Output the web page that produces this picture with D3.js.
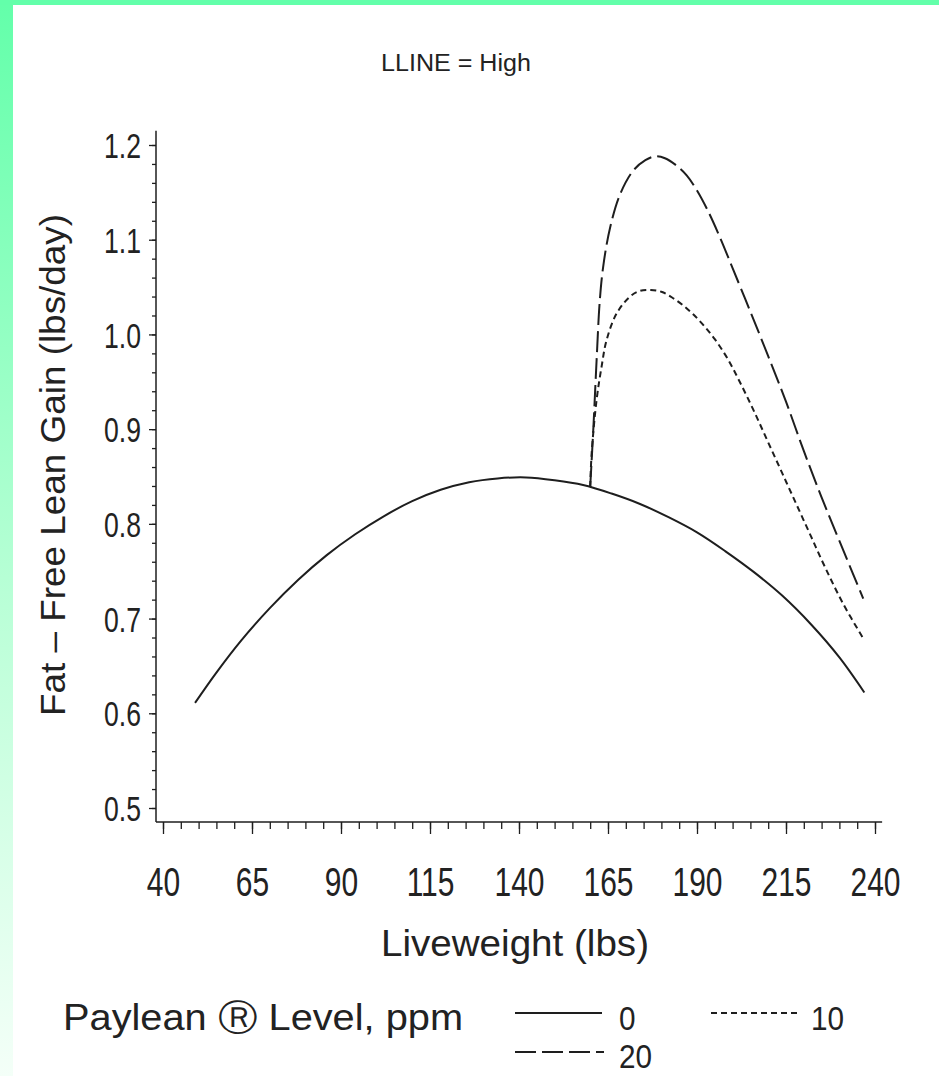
<!DOCTYPE html>
<html><head><meta charset="utf-8">
<script src="https://cdn.jsdelivr.net/npm/d3@7"></script>
<style>
body{margin:0;background:#fff;}
svg{display:block;}
text{font-family:"Liberation Sans",Arial,Helvetica,sans-serif;fill:#222;}
</style>
</head><body><svg id="c" width="939" height="1076"></svg>
<script>
// ---- data ----
const titleText = "LLINE = High";
const xLabel = "Liveweight  (lbs)";
const yLabel = "Fat \u2013 Free  Lean  Gain  (lbs/day)";
const legendTitle = "Paylean \u24C7 Level, ppm";
const xTicks = [40, 65, 90, 115, 140, 165, 190, 215, 240];
const yTicks = [0.5, 0.6, 0.7, 0.8, 0.9, 1.0, 1.1, 1.2];
const levels = ["0", "10", "20"];

const weight0 = [49, 55, 62, 70, 78, 86, 94, 102, 110, 118, 126, 134, 142, 150, 158, 166, 174, 182, 190, 198, 206, 214, 222, 230, 237];
const gain0   = [0.611, 0.643, 0.677, 0.711, 0.741, 0.767, 0.789, 0.808, 0.824, 0.836, 0.844, 0.848, 0.849, 0.846, 0.841, 0.832, 0.821, 0.807, 0.791, 0.771, 0.749, 0.724, 0.694, 0.659, 0.622];

const weight10 = [160, 160.4, 161.8, 163.2, 164.6, 167.4, 171.2, 174, 177, 180, 183, 186, 189, 192, 195, 198.5, 202, 206, 210, 214, 218, 222, 226, 231, 236.7];
const gain10   = [0.839, 0.874, 0.931, 0.966, 0.994, 1.022, 1.040, 1.046, 1.047, 1.045, 1.039, 1.031, 1.021, 1.009, 0.995, 0.975, 0.950, 0.919, 0.886, 0.853, 0.820, 0.787, 0.754, 0.716, 0.679];

const weight20 = [160, 160.9, 161.8, 162.7, 163.7, 165.6, 168.4, 172.1, 175.5, 178.2, 181, 184, 187.1, 190, 193, 196.5, 200, 205, 210, 215, 220, 225, 230, 236.7];
const gain20   = [0.839, 0.902, 0.973, 1.036, 1.073, 1.113, 1.148, 1.173, 1.184, 1.188, 1.186, 1.179, 1.168, 1.152, 1.131, 1.102, 1.070, 1.024, 0.977, 0.929, 0.877, 0.828, 0.782, 0.721];

// ---- layout ----
const svg = d3.select("#c");
const axisX = 156, axisY = 822;
const x = d3.scaleLinear().domain([40, 240]).range([163, 875]);
const y = d3.scaleLinear().domain([0.5, 1.2]).range([808, 145]);
const ink = "#1e1e1e";

function condense(sel, k) {
  sel.each(function () {
    const w = this.getComputedTextLength();
    d3.select(this).attr("textLength", w * k).attr("lengthAdjust", "spacingAndGlyphs");
  });
}

// green frame
const defs = svg.append("defs");
const grad = defs.append("linearGradient").attr("id", "gl").attr("x1", 0).attr("y1", 0).attr("x2", 0).attr("y2", 1);
grad.append("stop").attr("offset", "0%").attr("stop-color", "#63ffaa");
grad.append("stop").attr("offset", "55%").attr("stop-color", "#b8ffd6");
grad.append("stop").attr("offset", "100%").attr("stop-color", "#f4fff8");
svg.append("rect").attr("x", 0).attr("y", 0).attr("width", 939).attr("height", 1076).attr("fill", "#fff");
svg.append("rect").attr("x", 0).attr("y", 0).attr("width", 13).attr("height", 1076).attr("fill", "url(#gl)");
svg.append("rect").attr("x", 0).attr("y", 0).attr("width", 939).attr("height", 5).attr("fill", "#63ffaa");

// title
svg.append("text").attr("x", 456).attr("y", 71).attr("text-anchor", "middle")
  .attr("font-size", 23).attr("textLength", 150).attr("lengthAdjust", "spacingAndGlyphs")
  .text(titleText);

// y axis
const gy = svg.append("g").attr("transform", `translate(${axisX},0)`);
gy.call(d3.axisLeft(y).tickValues(d3.range(0.5, 1.2001, 0.02)).tickSize(4).tickFormat(""));
const gy2 = svg.append("g").attr("transform", `translate(${axisX},0)`);
gy2.call(d3.axisLeft(y).tickValues(yTicks).tickSize(7).tickPadding(8).tickFormat(d3.format(".1f")));
gy2.selectAll("text").attr("font-size", 35).attr("font-family", null).attr("fill", ink).attr("dy", "0.36em");
condense(gy2.selectAll("text"), 0.76);

// x axis
const gx = svg.append("g").attr("transform", `translate(0,${axisY})`);
gx.call(d3.axisBottom(x).tickValues(d3.range(40, 241, 5)).tickSize(7).tickFormat(""));
const gx2 = svg.append("g").attr("transform", `translate(0,${axisY})`);
gx2.call(d3.axisBottom(x).tickValues(xTicks).tickSize(12).tickFormat(d3.format("d")));
gx2.selectAll("text").attr("font-size", 41).attr("font-family", null).attr("fill", ink)
  .attr("y", 74).attr("dy", null);
condense(gx2.selectAll("text"), 0.73);
svg.selectAll(".tick line").attr("stroke", ink).attr("stroke-width", 1.3);
svg.selectAll(".domain").remove();

// axis lines
svg.append("line").attr("x1", axisX).attr("x2", axisX).attr("y1", y(1.215)).attr("y2", axisY)
  .attr("stroke", ink).attr("stroke-width", 1.5);
svg.append("line").attr("x1", axisX).attr("x2", x(242)).attr("y1", axisY).attr("y2", axisY)
  .attr("stroke", ink).attr("stroke-width", 1.5);

// axis titles
svg.append("text").attr("transform", "translate(65,465) rotate(-90)").attr("text-anchor", "middle")
  .attr("font-size", 35).attr("textLength", 502).attr("lengthAdjust", "spacingAndGlyphs").text(yLabel);
svg.append("text").attr("x", 515).attr("y", 956).attr("text-anchor", "middle")
  .attr("font-size", 37).attr("textLength", 268).attr("lengthAdjust", "spacingAndGlyphs").text(xLabel);

// curves
const series = [
  {w: weight0, g: gain0, dash: null},
  {w: weight10, g: gain10, dash: "6,4"},
  {w: weight20, g: gain20, dash: "21,6"}
];
const line = d3.line().x(d => x(d[0])).y(d => y(d[1])).curve(d3.curveCatmullRom.alpha(0.5));
series.forEach(s => {
  svg.append("path").datum(s.w.map((w, i) => [w, s.g[i]]))
    .attr("d", line).attr("fill", "none").attr("stroke", ink).attr("stroke-width", 2)
    .attr("stroke-dasharray", s.dash);
});

// legend
svg.append("text").attr("x", 63).attr("y", 1030).attr("font-size", 36)
  .attr("textLength", 400).attr("lengthAdjust", "spacingAndGlyphs").text(legendTitle);
const legItems = [
  {x0: 515, x1: 602, ly: 1013, tx: 619, ty: 1030, label: levels[0], dash: null},
  {x0: 711, x1: 800, ly: 1013, tx: 811, ty: 1030, label: levels[1], dash: "6,4"},
  {x0: 515, x1: 604, ly: 1052, tx: 619, ty: 1068, label: levels[2], dash: "21,6"}
];
legItems.forEach(l => {
  svg.append("line").attr("x1", l.x0).attr("x2", l.x1).attr("y1", l.ly).attr("y2", l.ly)
    .attr("stroke", ink).attr("stroke-width", 2).attr("stroke-dasharray", l.dash);
  const t = svg.append("text").attr("x", l.tx).attr("y", l.ty).attr("font-size", 33).text(l.label);
  condense(t, 0.9);
});
</script>
</body></html>
